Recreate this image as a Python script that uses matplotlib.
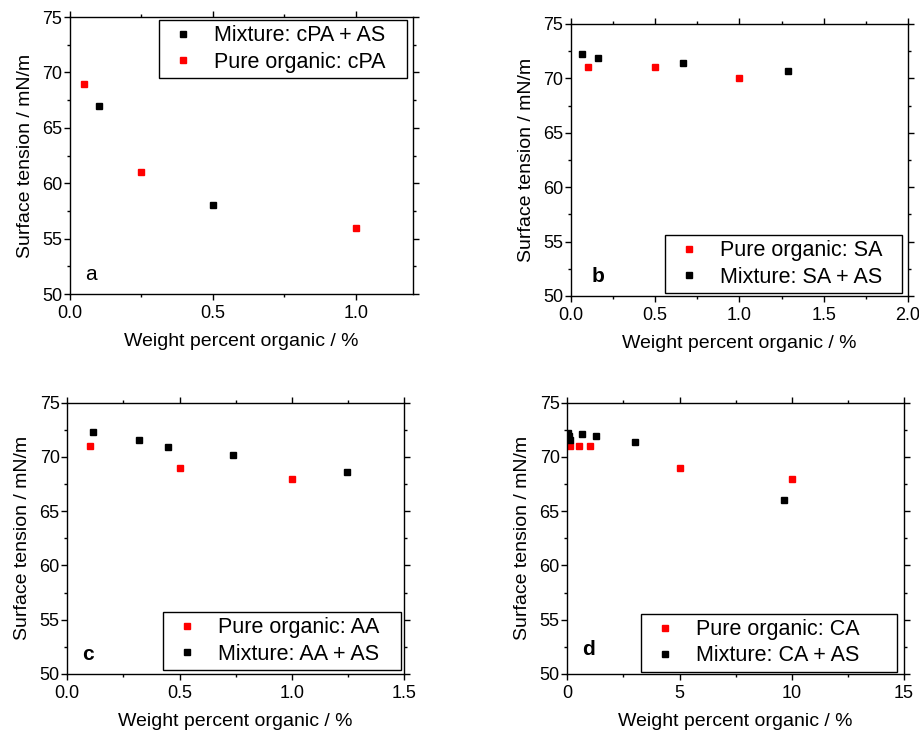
import matplotlib
matplotlib.use("Agg")
import matplotlib.pyplot as plt
from matplotlib.ticker import MultipleLocator

plt.rcParams['font.family'] = ['Liberation Sans', 'DejaVu Sans']

# panel a: cPA
a_pure_x = [0.05, 0.25, 1.0]
a_pure_y = [69, 61, 56]
a_mix_x = [0.1, 0.5]
a_mix_y = [67, 58]

# panel b: SA
b_pure_x = [0.1, 0.5, 1.0]
b_pure_y = [71.0, 71.0, 70.0]
b_mix_x = [0.063, 0.162, 0.663, 1.286]
b_mix_y = [72.25, 71.85, 71.45, 70.65]

# panel c: AA
c_pure_x = [0.1, 0.5, 1.0]
c_pure_y = [71.0, 69.0, 68.0]
c_mix_x = [0.113, 0.318, 0.447, 0.738, 1.245]
c_mix_y = [72.3, 71.55, 70.95, 70.15, 68.6]

# panel d: CA
d_pure_x = [0.1, 0.5, 1.0, 5.0, 10.0]
d_pure_y = [71.05, 71.05, 71.05, 69.0, 68.0]
d_mix_x = [0.05, 0.08, 0.12, 0.67, 1.29, 3.03, 9.65]
d_mix_y = [72.2, 71.9, 71.6, 72.15, 71.9, 71.35, 66.0]

ylab = 'Surface tension / mN/m'
xlab = 'Weight percent organic / %'

fig = plt.figure(figsize=(9.19, 7.31), dpi=100)

def setup(ax, xmax, xmaj, xfmt):
	ax.set_xlim(0, xmax)
	ax.set_ylim(50, 75)
	ax.xaxis.set_major_locator(MultipleLocator(xmaj))
	ax.xaxis.set_minor_locator(MultipleLocator(xmaj / 2.0))
	ax.yaxis.set_major_locator(MultipleLocator(5))
	ax.yaxis.set_minor_locator(MultipleLocator(2.5))
	ax.xaxis.set_major_formatter(plt.FormatStrFormatter(xfmt))
	ax.tick_params(which='major', direction='out', length=4, width=1, labelsize=13)
	ax.tick_params(which='minor', direction='out', length=2.5, width=1)
	ax.tick_params(axis='x', which='major', pad=4)
	ax.tick_params(axis='y', which='major', pad=1.5)
	ax.tick_params(which='both', top=True, right=True)
	for s in ax.spines.values():
		s.set_linewidth(1)
	ax.set_xlabel(xlab, fontsize=14, labelpad=8)
	ax.set_ylabel(ylab, fontsize=14, labelpad=6)

def legend(ax, box, loc):
	ax.legend(loc=loc, bbox_to_anchor=box, mode='expand', fontsize=15.5, frameon=True,
		fancybox=False, edgecolor='black', framealpha=1, borderpad=0.25, handlelength=1.7,
		handletextpad=0.6, labelspacing=0.25, borderaxespad=0)

ms = 4.5

# a
ax = fig.add_axes([0.0762, 0.5978, 0.3732, 0.3789])
setup(ax, 1.2, 0.5, '%.1f')
ax.plot(a_mix_x, a_mix_y, 's', color='black', ms=ms, label='Mixture: cPA + AS')
ax.plot(a_pure_x, a_pure_y, 's', color='red', ms=ms, label='Pure organic: cPA')
legend(ax, (0.259, 0.783, 0.724, 0.206), 'upper left')
ax.text(0.045, 0.07, 'a', transform=ax.transAxes, fontsize=15, va='center')

# b
ax = fig.add_axes([0.6213, 0.5951, 0.3667, 0.3721])
setup(ax, 2.0, 0.5, '%.1f')
ax.plot(b_pure_x, b_pure_y, 's', color='red', ms=ms, label='Pure organic: SA')
ax.plot(b_mix_x, b_mix_y, 's', color='black', ms=ms, label='Mixture: SA + AS')
legend(ax, (0.279, 0.011, 0.703, 0.213), 'lower left')
ax.text(0.06, 0.07, 'b', transform=ax.transAxes, fontsize=15, fontweight='bold', va='center')

# c
ax = fig.add_axes([0.0732, 0.0780, 0.3664, 0.3711])
setup(ax, 1.5, 0.5, '%.1f')
ax.plot(c_pure_x, c_pure_y, 's', color='red', ms=ms, label='Pure organic: AA')
ax.plot(c_mix_x, c_mix_y, 's', color='black', ms=ms, label='Mixture: AA + AS')
legend(ax, (0.285, 0.015, 0.705, 0.215), 'lower left')
ax.text(0.045, 0.07, 'c', transform=ax.transAxes, fontsize=15, fontweight='bold', va='center')

# d
ax = fig.add_axes([0.6173, 0.0780, 0.3664, 0.3711])
setup(ax, 15, 5, '%d')
ax.plot(d_pure_x, d_pure_y, 's', color='red', ms=ms, label='Pure organic: CA')
ax.plot(d_mix_x, d_mix_y, 's', color='black', ms=ms, label='Mixture: CA + AS')
legend(ax, (0.219, 0.008, 0.761, 0.225), 'lower left')
ax.text(0.045, 0.09, 'd', transform=ax.transAxes, fontsize=15, fontweight='bold', va='center')

fig.savefig('out.png', dpi=100)
